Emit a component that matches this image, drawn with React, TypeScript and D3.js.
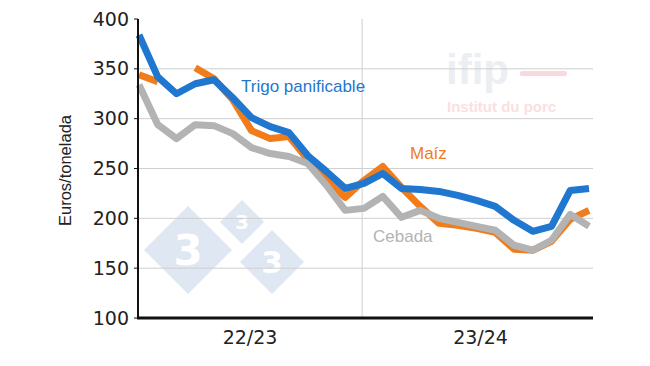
import React from "react";
import * as d3 from "d3";

const months: number[] = d3.range(25);
const trigo: (number | null)[] = [384, 342, 325, 335, 339, 321, 301, 292, 286, 263, 247, 230, 235, 245, 230, 229, 227, 223, 218, 212, 198, 187, 192, 228, 230];
const maiz: (number | null)[] = [344, 337, null, 351, 340, 319, 288, 280, 282, 259, 239, 221, 238, 252, 231, 212, 195, 193, 190, 186, 169, 168, 177, 199, 208];
const cebada: (number | null)[] = [334, 294, 280, 294, 293, 285, 271, 265, 262, 255, 233, 208, 210, 222, 201, 208, 200, 196, 192, 188, 173, 168, 178, 204, 192];
const yTicks: number[] = [100, 150, 200, 250, 300, 350, 400];
const seasons: string[] = ["22/23", "23/24"];

const W = 650, H = 366;
const left = 138, right = 593, top = 19, bottom = 318;

export default function App() {
  const x = d3.scaleLinear().domain([0, 24]).range([139, 589]);
  const y = d3.scaleLinear().domain([100, 400]).range([bottom, top]);
  const divider = x(11.9);
  const seasonBand = [
    [left, divider],
    [divider, right],
  ];
  const line = d3
    .line<number | null>()
    .defined((d) => d !== null)
    .x((_, i) => x(months[i]))
    .y((d) => y(d as number))
    .curve(d3.curveLinear);

  const diamond = (cx: number, cy: number, r: number) =>
    `M${cx},${cy - r}L${cx + r},${cy}L${cx},${cy + r}L${cx - r},${cy}Z`;

  return (
    <svg width={W} height={H} style={{ position: "absolute", left: 0, top: 0, background: "#fff" }}>
      <rect width={W} height={H} fill="#fff" />
      {/* watermarks */}
      <g>
        <path d={diamond(188, 250, 44)} fill="#dfe7f2" />
        <path d={diamond(242, 222, 22)} fill="#dfe7f2" />
        <path d={diamond(272, 262, 32)} fill="#dfe7f2" />
        <text x={188} y={265} textAnchor="middle" fontFamily="DejaVu Sans" fontWeight="bold" fontSize={42} fill="#fff">3</text>
        <text x={242} y={229} textAnchor="middle" fontFamily="DejaVu Sans" fontWeight="bold" fontSize={20} fill="#fff">3</text>
        <text x={272} y={273} textAnchor="middle" fontFamily="DejaVu Sans" fontWeight="bold" fontSize={31} fill="#fff">3</text>
        <text x={446} y={84} fontFamily="Liberation Sans" fontWeight="bold" fontSize={42} fill="#ebeef2">ifip</text>
        <rect x={520} y={71} width={47} height={5} rx={2} fill="#f8dadd" />
        <text x={447} y={112} fontFamily="Liberation Sans" fontWeight="bold" fontSize={15} fill="#f9e0e2">Institut du porc</text>
      </g>
      {/* grid */}
      {yTicks.filter((t) => t > 100 && t < 400).map((t) => (
        <line key={t} x1={left} x2={right} y1={y(t)} y2={y(t)} stroke="#cfcfcf" strokeWidth={1} />
      ))}
      <line x1={divider} x2={divider} y1={top} y2={bottom} stroke="#cfcfcf" strokeWidth={1} />
      {/* lines */}
      <path d={line(maiz) || ""} fill="none" stroke="#f07c1c" strokeWidth={7} strokeLinejoin="round" />
      <path d={line(cebada) || ""} fill="none" stroke="#b3b3b3" strokeWidth={7} strokeLinejoin="round" />
      <path d={line(trigo) || ""} fill="none" stroke="#1f77d0" strokeWidth={7} strokeLinejoin="round" />
      {/* axes */}
      <line x1={left} x2={left} y1={top} y2={bottom + 1} stroke="#111" strokeWidth={2} />
      <line x1={left - 1} x2={right} y1={bottom} y2={bottom} stroke="#111" strokeWidth={3} />
      {yTicks.map((t) => (
        <g key={t}>
          <line x1={left - 4} x2={left} y1={y(t)} y2={y(t)} stroke="#111" strokeWidth={1} />
          <text x={129} y={y(t)} dy="0.35em" textAnchor="end" fontFamily="DejaVu Sans" fontSize={19} fill="#222">{t}</text>
        </g>
      ))}
      {seasons.map((s, i) => (
        <text key={s} x={(seasonBand[i][0] + seasonBand[i][1]) / 2 + (i === 1 ? 3 : 0)} y={337} dy="0.35em" textAnchor="middle" fontFamily="DejaVu Sans" fontSize={19} fill="#222">{s}</text>
      ))}
      <text transform={`translate(65,${(top + bottom) / 2 + 2}) rotate(-90)`} textAnchor="middle" dy="0.35em" fontFamily="Liberation Sans" fontSize={16.5} fill="#222">Euros/tonelada</text>
      {/* series labels */}
      <text x={241} y={92} fontFamily="Liberation Sans" fontSize={17} fill="#1f77d0">Trigo panificable</text>
      <text x={410} y={159} fontFamily="Liberation Sans" fontSize={17} fill="#f07c1c">Maíz</text>
      <text x={373} y={242} fontFamily="Liberation Sans" fontSize={17} fill="#b3b3b3">Cebada</text>
    </svg>
  );
}
